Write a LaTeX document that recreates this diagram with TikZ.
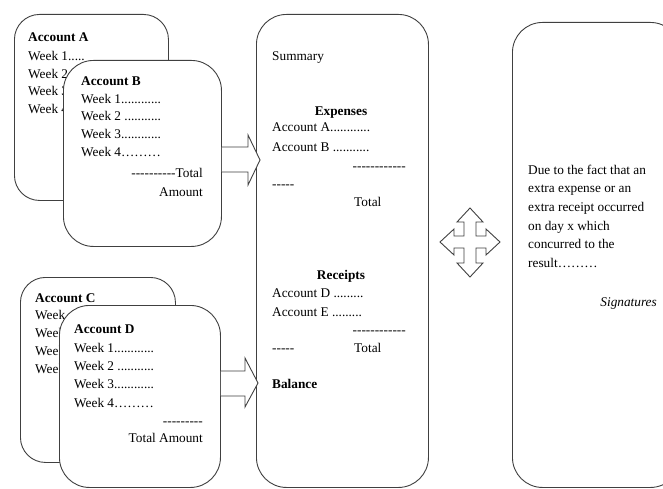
\documentclass[tikz,border=0pt]{standalone}
\usepackage{fontspec}
\setmainfont{Liberation Serif}
\usetikzlibrary{calc}
\newcommand\hy{\mbox{-}}
\newcommand\hyrow[1]{\foreach \k in {1,...,#1}{\hy}}
\tikzset{
  box/.style={draw=black!75, line width=0.9pt, fill=white, rounded corners=#1, anchor=north west, inner sep=0pt},
  box/.default=28pt,
  txt/.style={anchor=base west, inner sep=0pt, font=\fontsize{13.3}{18}\selectfont},
  txtr/.style={txt, anchor=base east},
  txtc/.style={txt, anchor=base},
  blockarrow/.style={draw=black!75, line width=0.9pt, fill=white, line join=miter}
}
\begin{document}
\begin{tikzpicture}[x=1pt,y=-1pt]
\useasboundingbox (0,0) rectangle (663,489);
\clip (0,0) rectangle (663,489);
\fill[white] (0,0) rectangle (663,489);

% Account A
\node[box=25pt, minimum width=154pt, minimum height=186pt] (A) at (14,14) {};
\node[txt] (a0) at (28,42) {\textbf{Account A}};
\node[txt] (a1) at (28,61) {Week 1.....};
\node[txt] (a2) at (28,79) {Week 2};
\node[txt] (a3) at (28,96) {Week 3};
\node[txt] (a4) at (28,114) {Week 4};

% Account B
\node[box=30pt, minimum width=158pt, minimum height=186pt] (B) at (63,60) {};
\node[txt] (b0) at (81,86) {\textbf{Account B}};
\node[txt] (b1) at (81,104) {Week 1............};
\node[txt] (b2) at (81,121) {Week 2 ...........};
\node[txt] (b3) at (81,139) {Week 3............};
\node[txt] (b4) at (81,157) {Week 4………};
\node[txtr] (b5) at (203,178) {\hyrow{10}Total};
\node[txtr] (b6) at (203,196) {Amount};

% Account C
\node[box=25pt, minimum width=155pt, minimum height=185pt] (C) at (20,277) {};
\node[txt] (c0) at (35,302) {\textbf{Account C}};
\node[txt] (c1) at (35,319) {Week};
\node[txt] (c2) at (35,337) {Week};
\node[txt] (c3) at (35,355) {Week};
\node[txt] (c4) at (35,373) {Week};

% Account D
\node[box=30pt, minimum width=161pt, minimum height=182pt] (D) at (59,305) {};
\node[txt] (d0) at (74,333) {\textbf{Account D}};
\node[txt] (d1) at (74,352) {Week 1............};
\node[txt] (d2) at (74,370) {Week 2 ...........};
\node[txt] (d3) at (74,388) {Week 3............};
\node[txt] (d4) at (74,407) {Week 4………};
\node[txtr] (d5) at (203,425) {\hyrow{9}};
\node[txtr] (d6) at (203,442) {Total Amount};

% Summary box
\node[box=30pt, minimum width=172pt, minimum height=473pt] (S) at (256,14) {};
\node[txt] (s0) at (272,61) {Summary};
\node[txtc] (s1) at (341,116) {\textbf{Expenses}};
\node[txt] (s2) at (272,132) {Account A............};
\node[txt] (s3) at (272,152) {Account B ...........};
\node[txtr] (s4) at (406,171) {\hyrow{12}};
\node[txt] (s5) at (272,189) {\hyrow{5}};
\node[txt] (s6) at (354,206) {Total};
\node[txtc] (s7) at (341,279) {\textbf{Receipts}};
\node[txt] (s8) at (272,297) {Account D .........};
\node[txt] (s9) at (272,316) {Account E .........};
\node[txtr] (s10) at (406,334) {\hyrow{12}};
\node[txt] (s11) at (272,352) {\hyrow{5}};
\node[txt] (s12) at (354,352) {Total};
\node[txt] (s13) at (272,388) {\textbf{Balance}};

% block arrows B -> S and D -> S
\coordinate (t1) at ($(S.west |- 0,160)+(4,0)$);
\coordinate (t2) at ($(S.west |- 0,383)+(2,0)$);
\draw[blockarrow] (B.east |- 0,147) -- ($(t1)+(-12,-13)$) -- ($(t1)+(-12,-25)$) -- (t1)
  -- ($(t1)+(-12,25)$) -- ($(t1)+(-12,12)$) -- (B.east |- 0,172);
\draw[blockarrow] (D.east |- 0,371) -- ($(t2)+(-13,-12)$) -- ($(t2)+(-13,-25)$) -- (t2)
  -- ($(t2)+(-13,24)$) -- ($(t2)+(-13,13)$) -- (D.east |- 0,396);

% Right box
\node[box=30pt, minimum width=168pt, minimum height=465pt] (R) at (512,22) {};
\node[txt] (r1) at (528,175) {Due to the fact that an};
\node[txt] (r2) at (528,193) {extra expense or an};
\node[txt] (r3) at (528,211) {extra receipt occurred};
\node[txt] (r4) at (528,230) {on day x which};
\node[txt] (r5) at (528,248) {concurred to the};
\node[txt] (r6) at (528,267) {result………};
\node[txtr] (r7) at (657,306) {\textit{Signatures}};

% four-way arrow
\coordinate (X) at (470,242);
\draw[blockarrow] ($(X)+(0,-34)$) -- ($(X)+(13,-20)$) -- ($(X)+(6,-20)$) -- ($(X)+(6,-6)$)
  -- ($(X)+(16,-6)$) -- ($(X)+(16,-13)$) -- ($(X)+(30,0)$) -- ($(X)+(16,13)$) -- ($(X)+(16,6)$)
  -- ($(X)+(6,6)$) -- ($(X)+(6,21)$) -- ($(X)+(13,21)$) -- ($(X)+(0,35)$) -- ($(X)+(-13,21)$)
  -- ($(X)+(-6,21)$) -- ($(X)+(-6,6)$) -- ($(X)+(-16,6)$) -- ($(X)+(-16,13)$) -- ($(X)+(-30,0)$)
  -- ($(X)+(-16,-13)$) -- ($(X)+(-16,-6)$) -- ($(X)+(-6,-6)$) -- ($(X)+(-6,-20)$) -- ($(X)+(-13,-20)$) -- cycle;
\end{tikzpicture}
\end{document}
